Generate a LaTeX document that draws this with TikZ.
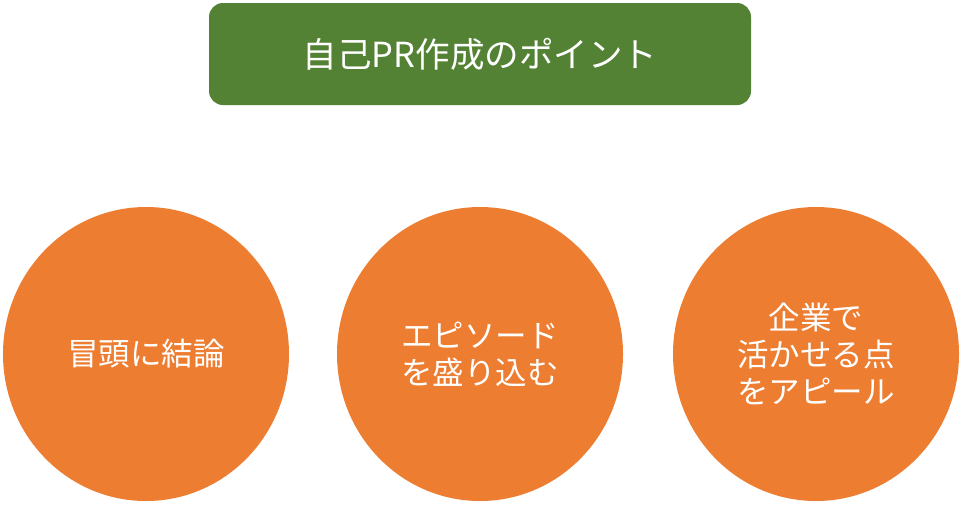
\documentclass[tikz,border=0pt]{standalone}
\usepackage{fontspec}
\setmainfont{Noto Sans CJK JP}
\usetikzlibrary{shapes.geometric}
\definecolor{prgreen}{HTML}{548235}
\definecolor{prorange}{HTML}{ED7D31}

\begin{document}
\begin{tikzpicture}[x=1pt,y=-1pt,
  titlebox/.style={fill=prgreen,rounded corners=14pt,minimum width=542pt,minimum height=102pt,
    text=white,font=\fontsize{34.5}{40}\selectfont},
  point/.style={ellipse,fill=prorange,minimum width=286pt,minimum height=294pt,inner sep=0pt,
    text=white,align=center,font=\fontsize{31.5}{37}\selectfont}]
  \fill[white] (0,0) rectangle (960,504);
  \useasboundingbox (0,0) rectangle (960,504);

  \node[titlebox] (title) at (480,54) {自己PR作成のポイント};

  \node[point] (first) at (146,354) {冒頭に結論};
  \node[point] (second) at (480,354) {エピソード\\を盛り込む};
  \node[point] (third) at (816,354) {企業で\\活かせる点\\をアピール};
\end{tikzpicture}
\end{document}
